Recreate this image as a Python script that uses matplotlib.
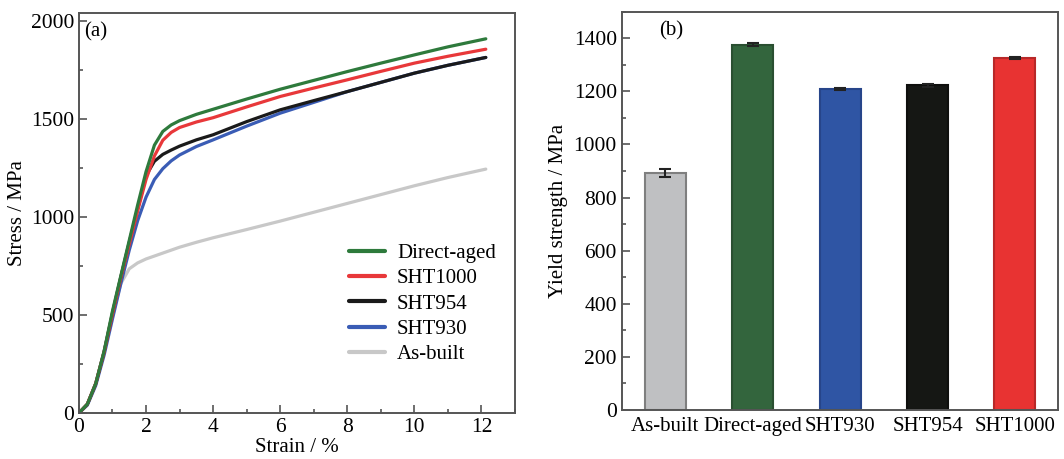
import matplotlib
matplotlib.use("Agg")
import matplotlib.pyplot as plt
from matplotlib.ticker import MultipleLocator

plt.rcParams['font.family'] = ['Liberation Serif', 'DejaVu Serif']
plt.rcParams['font.size'] = 15

# ---- Data: stress-strain curves ----
strain = [0, 0.25, 0.5, 0.75, 1.0, 1.25, 1.5, 1.75, 2.0, 2.25, 2.5, 2.75, 3.0,
          3.5, 4, 5, 6, 7, 8, 9, 10, 11, 12.13]
stress_direct_aged = [0, 45, 150, 315, 520, 700, 880, 1060, 1230, 1365, 1435, 1468, 1490,
                      1522, 1548, 1600, 1650, 1695, 1740, 1783, 1825, 1866, 1907]
stress_sht1000 = [0, 45, 150, 310, 505, 690, 860, 1030, 1190, 1310, 1390, 1430, 1455,
                  1483, 1505, 1560, 1613, 1656, 1698, 1741, 1783, 1818, 1854]
stress_sht954 = [0, 45, 150, 312, 510, 695, 870, 1040, 1210, 1283, 1318, 1340, 1360,
                 1392, 1418, 1485, 1545, 1592, 1638, 1685, 1732, 1772, 1812]
stress_sht930 = [0, 40, 140, 295, 480, 660, 830, 980, 1100, 1190, 1245, 1285, 1315,
                 1358, 1392, 1462, 1528, 1583, 1638, 1685, 1732, 1772, 1812]
stress_as_built = [0, 45, 150, 315, 500, 660, 735, 765, 785, 800, 815, 830, 845,
                   870, 893, 935, 978, 1023, 1068, 1113, 1158, 1200, 1243]

curve_labels = ["Direct-aged", "SHT1000", "SHT954", "SHT930", "As-built"]
curve_colors = ["#2e7a3c", "#e8383a", "#1a1a1a", "#3a5cb5", "#c8c8c8"]

# ---- Data: yield strength bars ----
categories = ["As-built", "Direct-aged", "SHT930", "SHT954", "SHT1000"]
yield_strength = [892, 1376, 1208, 1223, 1324]
yield_err = [15, 5, 4, 5, 4]
bar_colors = ["#bfc0c2", "#33653d", "#2f55a4", "#151714", "#e83332"]
bar_edges = ["#7f7f7f", "#2a4f31", "#27458a", "#0e0f0d", "#b82828"]

fig = plt.figure(figsize=(10.64, 4.59), dpi=100)
ax1 = fig.add_axes([0.0742, 0.1002, 0.4098, 0.8721])
ax2 = fig.add_axes([0.5843, 0.1068, 0.4098, 0.8677])

spine_color = "#555555"

curves = [stress_direct_aged, stress_sht1000, stress_sht954, stress_sht930, stress_as_built]
order = [4, 3, 2, 1, 0]
handles = {}
for i in order:
    h, = ax1.plot(strain, curves[i], color=curve_colors[i], lw=2.3,
                  solid_capstyle='round', solid_joinstyle='round', label=curve_labels[i])
    handles[i] = h

ax1.set_xlim(0, 13)
ax1.set_ylim(0, 2040)
ax1.xaxis.set_major_locator(MultipleLocator(2))
ax1.xaxis.set_minor_locator(MultipleLocator(1))
ax1.yaxis.set_major_locator(MultipleLocator(500))
ax1.yaxis.set_minor_locator(MultipleLocator(250))
ax1.set_xlabel("Strain / %", labelpad=1)
ax1.set_ylabel("Stress / MPa", labelpad=3)
ax1.text(0.012, 0.975, "(a)", transform=ax1.transAxes, ha="left", va="top", fontsize=15)
leg = ax1.legend([handles[i] for i in range(5)], curve_labels,
                 loc="lower right", bbox_to_anchor=(0.985, 0.09), frameon=False,
                 handlelength=1.7, handletextpad=0.6, labelspacing=0.28, fontsize=15,
                 borderaxespad=0.2)
for lh in leg.get_lines():
    lh.set_linewidth(3)

x = list(range(len(categories)))
ax2.bar(x, yield_strength, width=0.47, color=bar_colors,
        edgecolor=bar_edges, linewidth=1.5,
        yerr=yield_err, capsize=4, error_kw=dict(ecolor="#222222", elinewidth=1.5, capthick=1.5))
ax2.set_xlim(-0.50, 4.49)
ax2.set_ylim(0, 1500)
ax2.set_xticks(x)
ax2.set_xticklabels(categories)
ax2.yaxis.set_major_locator(MultipleLocator(200))
ax2.yaxis.set_minor_locator(MultipleLocator(100))
ax2.set_ylabel("Yield strength / MPa", labelpad=4)
ax2.text(0.085, 0.975, "(b)", transform=ax2.transAxes, ha="left", va="top", fontsize=15)

for ax in (ax1, ax2):
    for s in ax.spines.values():
        s.set_color(spine_color)
        s.set_linewidth(1.4)
    ax.tick_params(which="both", direction="in", color=spine_color, width=1.2, labelsize=15.5)
    ax.tick_params(which="major", length=6)
    ax.tick_params(which="minor", length=3)
ax2.tick_params(axis="x", which="both", length=0, pad=5, labelsize=15)
ax1.tick_params(axis="both", which="both", top=False, right=False)

fig.savefig("out.png", dpi=100)
